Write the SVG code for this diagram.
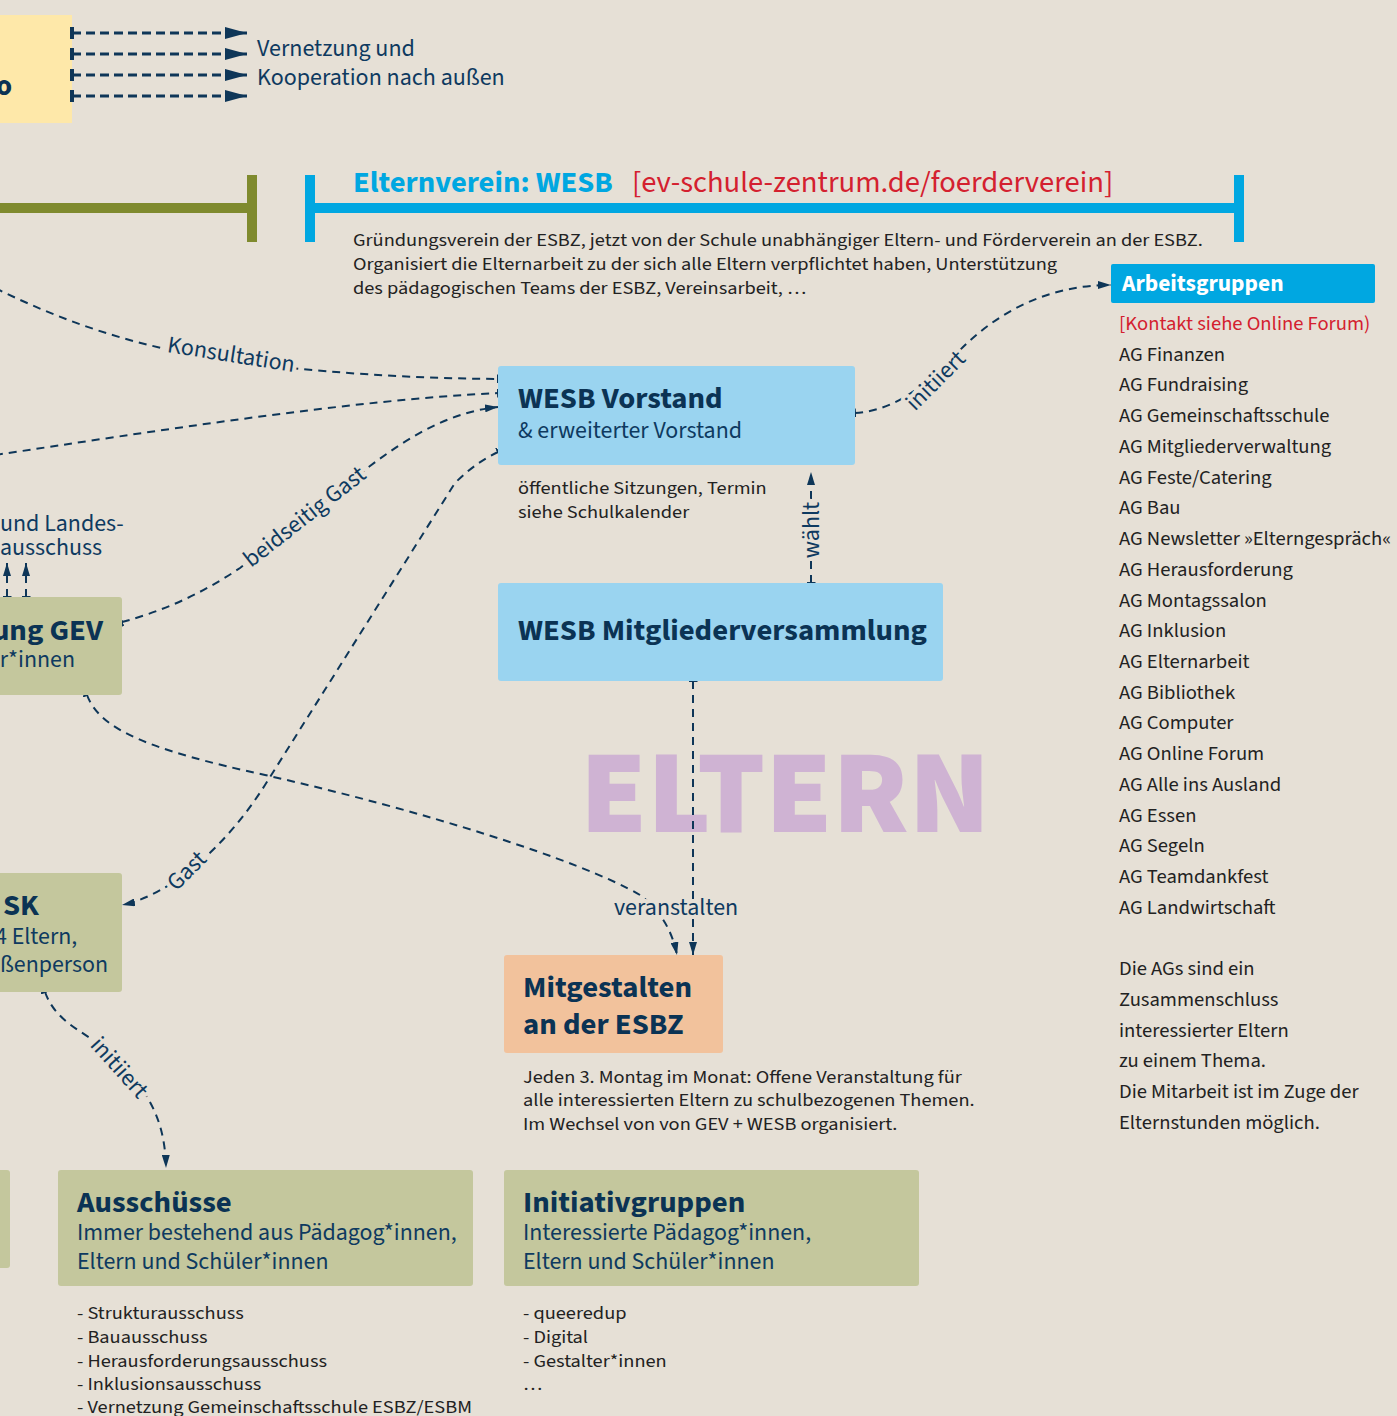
<svg xmlns="http://www.w3.org/2000/svg" width="1397" height="1416" viewBox="0 0 1397 1416">
<defs>
<style>
text{font-family:"Source Sans Pro","Source Sans 3",Lato,"Noto Sans",sans-serif}
.con{fill:none;stroke:#0e3658;stroke-width:2;stroke-dasharray:8 6}
.con2{fill:none;stroke:#0e3658;stroke-width:3;stroke-dasharray:9 5}
.lbl{font-size:24px;fill:#0e3a60;stroke:#e6e0d6;stroke-width:8px;paint-order:stroke;stroke-linejoin:round}
.ti{font-size:29px;font-weight:bold;fill:#0b3354}
.su{font-size:23px;fill:#0e3a60}
.bo{font-size:18.5px;fill:#222}
.ag{font-size:19px;fill:#222}
.green{fill:#c4c79d}
.blue{fill:#9ad4f0}
</style>
<marker id="arr" viewBox="0 0 13 8" refX="13" refY="4" markerWidth="13" markerHeight="8" markerUnits="userSpaceOnUse" orient="auto"><path d="M0,0 L13,4 L0,8 z" fill="#0e3658"/></marker>
<marker id="tick" viewBox="-1 -4.5 2 9" refX="0" refY="0" markerWidth="2" markerHeight="9" markerUnits="userSpaceOnUse" orient="auto"><rect x="-1" y="-4.5" width="2" height="9" fill="#0e3658"/></marker>
<marker id="bigarr" viewBox="0 0 22 12" refX="22" refY="6" markerWidth="22" markerHeight="12" markerUnits="userSpaceOnUse" orient="auto"><path d="M0,0 L22,6 L0,12 z" fill="#0e3658"/></marker>
<marker id="bigtick" viewBox="-2 -6 4 12" refX="0" refY="0" markerWidth="4" markerHeight="12" markerUnits="userSpaceOnUse" orient="auto"><rect x="-2" y="-6" width="4" height="12" fill="#0e3658"/></marker>
</defs>
<rect width="1397" height="1416" fill="#e6e0d6"/>

<text x="580" y="832" font-size="118" font-weight="900" fill="#cfb3d3" textLength="410" lengthAdjust="spacingAndGlyphs">ELTERN</text>

<g id="top-box">
<rect x="-5" y="15" width="77" height="108" fill="#fee8a9"/>
<text x="-4" y="95" class="ti" font-size="30">o</text>
</g>
<g id="vernetzung" transform="matrix(1.045 0 0 1 -11.565 0)">
<text x="257" y="56" class="su">Vernetzung und</text>
<text x="257" y="85" class="su">Kooperation nach außen</text>
</g>

<g id="bars">
<rect x="-5" y="203" width="257" height="10" fill="#7f8a2e"/>
<rect x="247" y="175" width="10" height="67" fill="#7f8a2e"/>
<rect x="305" y="175" width="10" height="67" fill="#00a7e1"/>
<rect x="315" y="203" width="925" height="10" fill="#00a7e1"/>
<rect x="1234" y="175" width="10" height="67" fill="#00a7e1"/>
</g>

<g id="elternverein">
<text x="353" y="192" font-size="29" font-weight="bold" fill="#00a7e1" transform="matrix(1.055 0 0 1 -19.415 0)">Elternverein: WESB</text>
<text x="632" y="192" font-size="29" fill="#d4202f" transform="matrix(1.055 0 0 1 -34.76 0)">[ev-schule-zentrum.de/foerderverein]</text>
<g transform="matrix(1.1 0 0 1 -35.3 0)">
<text x="353" y="246" class="bo">Gründungsverein der ESBZ, jetzt von der Schule unabhängiger Eltern- und Förderverein an der ESBZ.</text>
<text x="353" y="270" class="bo">Organisiert die Elternarbeit zu der sich alle Eltern verpflichtet haben, Unterstützung</text>
<text x="353" y="294" class="bo">des pädagogischen Teams der ESBZ, Vereinsarbeit, …</text>
</g>
</g>

<g id="connectors">
<line class="con2" x1="72" y1="33" x2="247" y2="33" marker-start="url(#bigtick)" marker-end="url(#bigarr)"/>
<line class="con2" x1="72" y1="54" x2="247" y2="54" marker-start="url(#bigtick)" marker-end="url(#bigarr)"/>
<line class="con2" x1="72" y1="75" x2="247" y2="75" marker-start="url(#bigtick)" marker-end="url(#bigarr)"/>
<line class="con2" x1="72" y1="96" x2="247" y2="96" marker-start="url(#bigtick)" marker-end="url(#bigarr)"/>

<path class="con" d="M -5 288 C 60 320 120 340 180 352 C 260 368 380 378 498 379" marker-end="url(#tick)"/>
<path class="con" d="M -5 455 C 150 432 350 400 498 393" marker-end="url(#tick)"/>
<path class="con" d="M 122 622 C 160 612 200 595 240 568 L 370 466 C 410 436 450 412 498 407" marker-start="url(#tick)" marker-end="url(#arr)"/>
<path class="con" d="M 498 452 C 485 458 470 468 455 483 L 265 785 C 225 848 170 895 122 905" marker-start="url(#tick)" marker-end="url(#arr)"/>
<path class="con" d="M 87 695 C 100 730 150 750 265 775 C 420 810 580 860 640 895 C 660 910 672 930 677 955" marker-start="url(#tick)" marker-end="url(#arr)"/>
<line class="con" x1="693" y1="681" x2="693" y2="955" marker-start="url(#tick)" marker-end="url(#arr)"/>
<line class="con" x1="811" y1="583" x2="811" y2="472" marker-start="url(#tick)" marker-end="url(#arr)"/>
<path class="con" d="M 855 413 C 900 410 930 380 960 350 C 1000 310 1050 285 1111 285" marker-start="url(#tick)" marker-end="url(#arr)"/>
<path class="con" d="M 45 992 C 55 1020 80 1030 100 1045 C 140 1080 165 1110 166 1168" marker-start="url(#tick)" marker-end="url(#arr)"/>
<line class="con" x1="7" y1="597" x2="7" y2="563" marker-start="url(#tick)" marker-end="url(#arr)"/>
<line class="con" x1="26" y1="597" x2="26" y2="563" marker-start="url(#tick)" marker-end="url(#arr)"/>

<text class="lbl" x="230" y="362" text-anchor="middle" transform="rotate(9 230 362)">Konsultation</text>
<text class="lbl" x="304" y="516" dy="0.35em" text-anchor="middle" transform="rotate(-38 304 516)">beidseitig Gast</text>
<text class="lbl" x="186" y="870" dy="0.35em" text-anchor="middle" transform="rotate(-45 186 870)">Gast</text>
<text class="lbl" x="935" y="380" dy="0.35em" text-anchor="middle" transform="rotate(-45 935 380)">initiiert</text>
<text class="lbl" x="120" y="1067" dy="0.35em" text-anchor="middle" transform="rotate(48 120 1067)">initiiert</text>
<text class="lbl" x="811" y="530" dy="0.35em" text-anchor="middle" transform="rotate(-90 811 530)">wählt</text>
<text class="lbl" x="614" y="915">veranstalten</text>
</g>

<g id="landesausschuss" transform="matrix(1.04 0 0 1 0 0)">
<text x="0" y="531" class="su">und Landes-</text>
<text x="0" y="555" class="su">ausschuss</text>
</g>

<g id="wesb-vorstand">
<rect x="498" y="366" width="357" height="99" rx="3" class="blue"/>
<text x="518" y="408" class="ti" transform="matrix(1.06 0 0 1 -31.08 0)">WESB Vorstand</text>
<text x="518" y="438" class="su" transform="matrix(1.04 0 0 1 -20.72 0)">&amp; erweiterter Vorstand</text>
<g transform="matrix(1.1 0 0 1 -51.8 0)">
<text x="518" y="494" class="bo">öffentliche Sitzungen, Termin</text>
<text x="518" y="518" class="bo">siehe Schulkalender</text>
</g>
</g>

<g id="wesb-mv">
<rect x="498" y="583" width="445" height="98" rx="3" class="blue"/>
<text x="518" y="640" class="ti" transform="matrix(1.06 0 0 1 -31.08 0)">WESB Mitgliederversammlung</text>
</g>

<g id="gev">
<rect x="-10" y="597" width="132" height="98" rx="3" class="green"/>
<text x="103" y="640" class="ti" text-anchor="end" transform="matrix(1.06 0 0 1 -6.18 0)">ung GEV</text>
<text x="75" y="667" class="su" text-anchor="end" transform="matrix(1.04 0 0 1 -3 0)">r*innen</text>
</g>

<g id="sk">
<rect x="-10" y="873" width="132" height="119" rx="3" class="green"/>
<text x="3" y="915" class="ti" transform="matrix(1.06 0 0 1 -0.18 0)">SK</text>
<text x="-5" y="944" class="su" transform="matrix(1.04 0 0 1 0.2 0)">4 Eltern,</text>
<text x="0" y="972" class="su" transform="matrix(1.04 0 0 1 0 0)">ßenperson</text>
</g>

<g id="mitgestalten">
<rect x="504" y="955" width="219" height="98" rx="3" fill="#f2c29c"/>
<g transform="matrix(1.06 0 0 1 -31.38 0)">
<text x="523" y="997" class="ti">Mitgestalten</text>
<text x="523" y="1034" class="ti">an der ESBZ</text>
</g>
<g transform="matrix(1.1 0 0 1 -52.3 0)">
<text x="523" y="1083" class="bo">Jeden 3. Montag im Monat: Offene Veranstaltung für</text>
<text x="523" y="1106" class="bo">alle interessierten Eltern zu schulbezogenen Themen.</text>
<text x="523" y="1130" class="bo">Im Wechsel von von GEV + WESB organisiert.</text>
</g>
</g>

<g id="left-partial">
<rect x="-10" y="1170" width="20" height="98" rx="3" class="green"/>
</g>

<g id="ausschuesse">
<rect x="58" y="1170" width="415" height="116" rx="3" class="green"/>
<text x="77" y="1212" class="ti" transform="matrix(1.06 0 0 1 -4.62 0)">Ausschüsse</text>
<g transform="matrix(1.04 0 0 1 -3.08 0)">
<text x="77" y="1240" class="su">Immer bestehend aus Pädagog*innen,</text>
<text x="77" y="1269" class="su">Eltern und Schüler*innen</text>
</g>
<g transform="matrix(1.1 0 0 1 -7.7 0)">
<text x="77" y="1319" class="bo">- Strukturausschuss</text>
<text x="77" y="1343" class="bo">- Bauausschuss</text>
<text x="77" y="1367" class="bo">- Herausforderungsausschuss</text>
<text x="77" y="1390" class="bo">- Inklusionsausschuss</text>
<text x="77" y="1413" class="bo">- Vernetzung Gemeinschaftsschule ESBZ/ESBM</text>
</g>
</g>

<g id="initiativgruppen">
<rect x="504" y="1170" width="415" height="116" rx="3" class="green"/>
<text x="523" y="1212" class="ti" transform="matrix(1.06 0 0 1 -31.38 0)">Initiativgruppen</text>
<g transform="matrix(1.04 0 0 1 -20.92 0)">
<text x="523" y="1240" class="su">Interessierte Pädagog*innen,</text>
<text x="523" y="1269" class="su">Eltern und Schüler*innen</text>
</g>
<g transform="matrix(1.1 0 0 1 -52.3 0)">
<text x="523" y="1319" class="bo">- queeredup</text>
<text x="523" y="1343" class="bo">- Digital</text>
<text x="523" y="1367" class="bo">- Gestalter*innen</text>
<text x="523" y="1390" class="bo">…</text>
</g>
</g>

<g id="arbeitsgruppen">
<rect x="1111" y="264" width="264" height="39" rx="2" fill="#00a7e1"/>
<text x="1122" y="291" font-size="23" font-weight="bold" fill="#ffffff" transform="matrix(1.02 0 0 1 -22.44 0)">Arbeitsgruppen</text>
<g transform="matrix(1.085 0 0 1 -95.115 0)">
<text x="1119" y="330" class="ag" style="fill:#d4202f">[Kontakt siehe Online Forum)</text>
<text x="1119" y="361" class="ag">AG Finanzen</text>
<text x="1119" y="391" class="ag">AG Fundraising</text>
<text x="1119" y="422" class="ag">AG Gemeinschaftsschule</text>
<text x="1119" y="453" class="ag">AG Mitgliederverwaltung</text>
<text x="1119" y="484" class="ag">AG Feste/Catering</text>
<text x="1119" y="514" class="ag">AG Bau</text>
<text x="1119" y="545" class="ag">AG Newsletter »Elterngespräch«</text>
<text x="1119" y="576" class="ag">AG Herausforderung</text>
<text x="1119" y="607" class="ag">AG Montagssalon</text>
<text x="1119" y="637" class="ag">AG Inklusion</text>
<text x="1119" y="668" class="ag">AG Elternarbeit</text>
<text x="1119" y="699" class="ag">AG Bibliothek</text>
<text x="1119" y="729" class="ag">AG Computer</text>
<text x="1119" y="760" class="ag">AG Online Forum</text>
<text x="1119" y="791" class="ag">AG Alle ins Ausland</text>
<text x="1119" y="822" class="ag">AG Essen</text>
<text x="1119" y="852" class="ag">AG Segeln</text>
<text x="1119" y="883" class="ag">AG Teamdankfest</text>
<text x="1119" y="914" class="ag">AG Landwirtschaft</text>
<text x="1119" y="975" class="ag">Die AGs sind ein</text>
<text x="1119" y="1006" class="ag">Zusammenschluss</text>
<text x="1119" y="1037" class="ag">interessierter Eltern</text>
<text x="1119" y="1067" class="ag">zu einem Thema.</text>
<text x="1119" y="1098" class="ag">Die Mitarbeit ist im Zuge der</text>
<text x="1119" y="1129" class="ag">Elternstunden möglich.</text>
</g>
</g>
</svg>
